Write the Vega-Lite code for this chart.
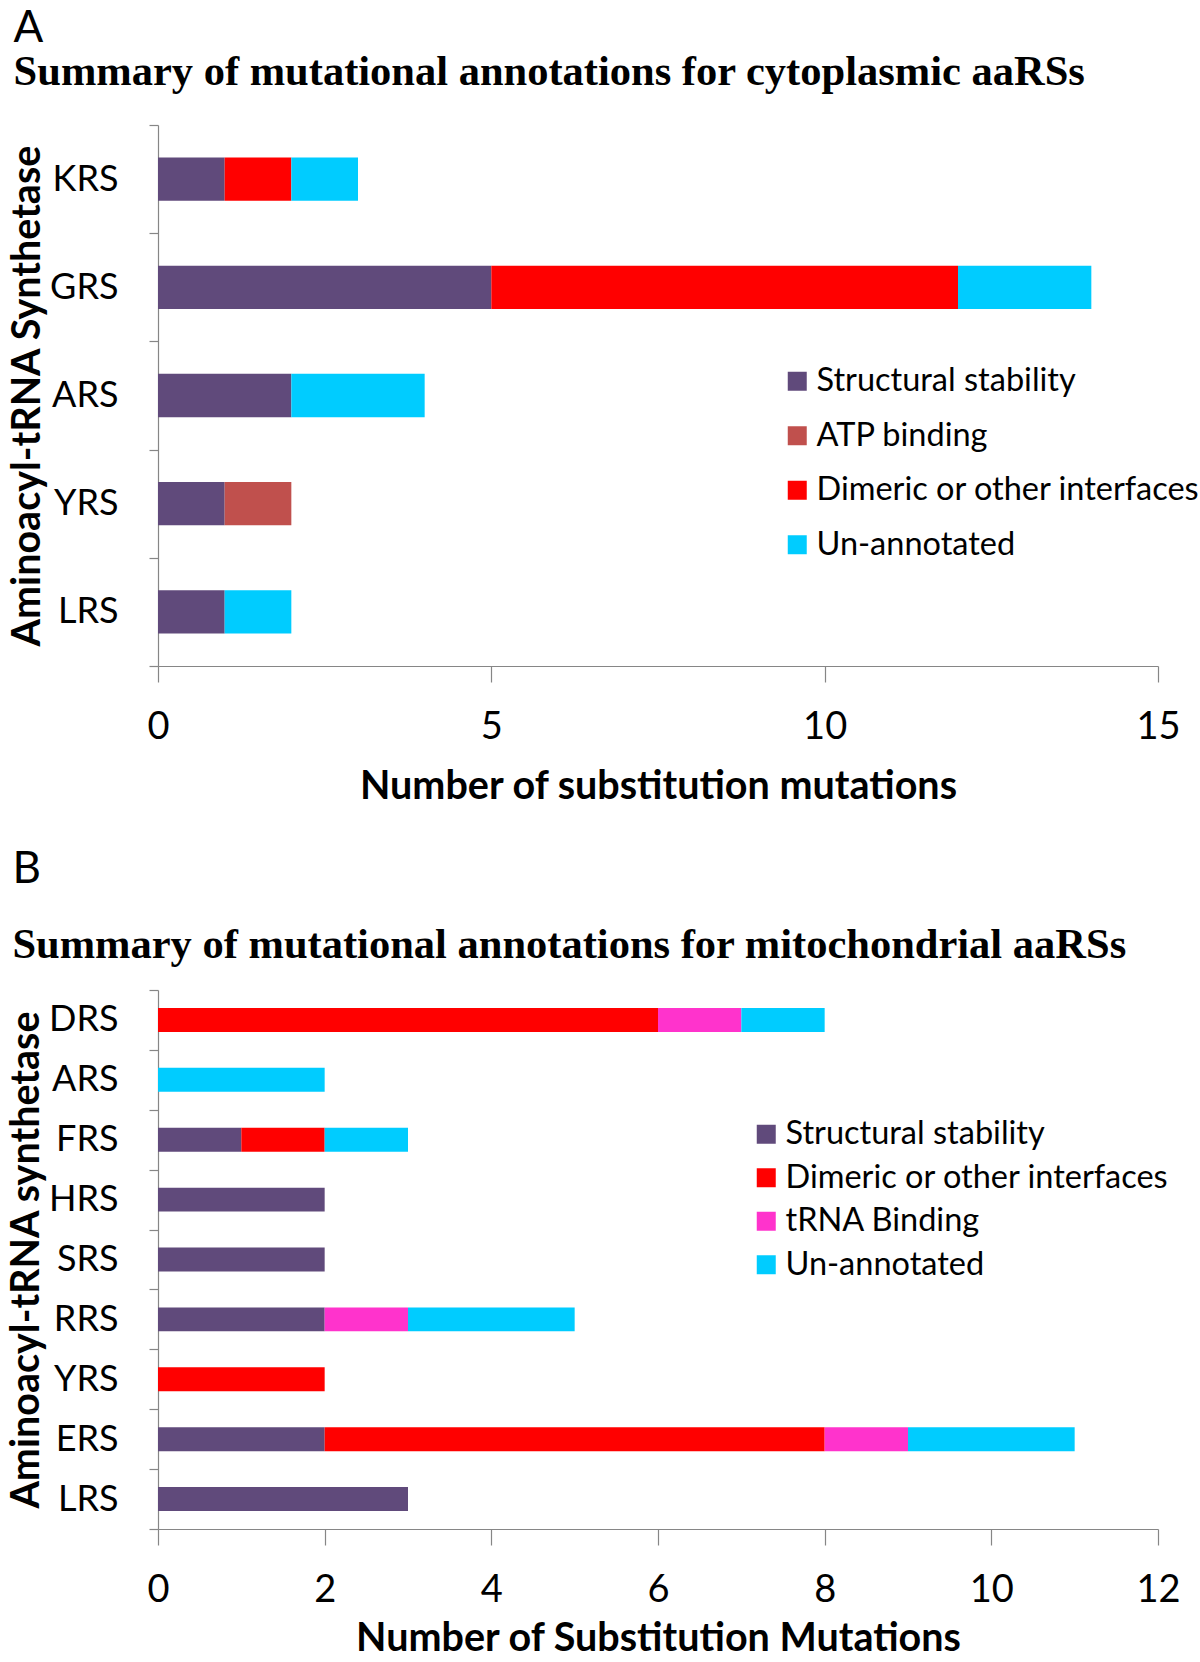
{
  "$schema": "https://vega.github.io/schema/vega-lite/v6.json",
  "background": "white",
  "padding": {"left": 6, "top": 6, "right": 0, "bottom": 0},
  "spacing": 41,
  "datasets": {
    "cyto": [
      {"enzyme": "KRS", "category": "Structural stability", "count": 1},
      {"enzyme": "KRS", "category": "Dimeric or other interfaces", "count": 1},
      {"enzyme": "KRS", "category": "Un-annotated", "count": 1},
      {"enzyme": "GRS", "category": "Structural stability", "count": 5},
      {"enzyme": "GRS", "category": "Dimeric or other interfaces", "count": 7},
      {"enzyme": "GRS", "category": "Un-annotated", "count": 2},
      {"enzyme": "ARS", "category": "Structural stability", "count": 2},
      {"enzyme": "ARS", "category": "Un-annotated", "count": 2},
      {"enzyme": "YRS", "category": "Structural stability", "count": 1},
      {"enzyme": "YRS", "category": "ATP binding", "count": 1},
      {"enzyme": "LRS", "category": "Structural stability", "count": 1},
      {"enzyme": "LRS", "category": "Un-annotated", "count": 1}
    ],
    "mito": [
      {"enzyme": "DRS", "category": "Dimeric or other interfaces", "count": 6},
      {"enzyme": "DRS", "category": "tRNA Binding", "count": 1},
      {"enzyme": "DRS", "category": "Un-annotated", "count": 1},
      {"enzyme": "ARS", "category": "Un-annotated", "count": 2},
      {"enzyme": "FRS", "category": "Structural stability", "count": 1},
      {"enzyme": "FRS", "category": "Dimeric or other interfaces", "count": 1},
      {"enzyme": "FRS", "category": "Un-annotated", "count": 1},
      {"enzyme": "HRS", "category": "Structural stability", "count": 2},
      {"enzyme": "SRS", "category": "Structural stability", "count": 2},
      {"enzyme": "RRS", "category": "Structural stability", "count": 2},
      {"enzyme": "RRS", "category": "tRNA Binding", "count": 1},
      {"enzyme": "RRS", "category": "Un-annotated", "count": 2},
      {"enzyme": "YRS", "category": "Dimeric or other interfaces", "count": 2},
      {"enzyme": "ERS", "category": "Structural stability", "count": 2},
      {"enzyme": "ERS", "category": "Dimeric or other interfaces", "count": 6},
      {"enzyme": "ERS", "category": "tRNA Binding", "count": 1},
      {"enzyme": "ERS", "category": "Un-annotated", "count": 2},
      {"enzyme": "LRS", "category": "Structural stability", "count": 3}
    ],
    "catOrder": [
      {"category": "Structural stability", "rank": 1},
      {"category": "ATP binding", "rank": 2},
      {"category": "Dimeric or other interfaces", "rank": 3},
      {"category": "tRNA Binding", "rank": 4},
      {"category": "Un-annotated", "rank": 5}
    ]
  },
  "config": {
    "view": {"stroke": null},
    "font": "Lato",
    "axis": {
      "grid": false,
      "domainColor": "#868686",
      "tickColor": "#868686",
      "domainWidth": 1.2,
      "tickWidth": 1.2,
      "labelFont": "Lato",
      "labelFontSize": 36,
      "labelColor": "#000000",
      "titleFont": "Lato",
      "titleFontSize": 39.5,
      "titleFontWeight": "bold",
      "titleColor": "#000000"
    },
    "legend": {
      "orient": "none",
      "title": null,
      "labelFont": "Lato",
      "labelFontSize": 32.5,
      "labelColor": "#000000",
      "labelLimit": 0,
      "symbolType": "square",
      "symbolSize": 361,
      "symbolStrokeWidth": 0,
      "symbolOpacity": 1,
      "labelOffset": 3,
      "padding": 0
    },
    "title": {
      "anchor": "start",
      "font": "Lato",
      "fontSize": 44,
      "fontWeight": "normal",
      "color": "#000000",
      "subtitleFont": "Liberation Serif",
      "subtitleFontSize": 42.5,
      "subtitleFontWeight": "bold",
      "subtitleColor": "#000000",
      "dx": 6
    }
  },
  "resolve": {"scale": {"color": "independent"}, "legend": {"color": "independent"}},
  "vconcat": [
    {
      "title": {"text": "A", "subtitle": "Summary of mutational annotations for cytoplasmic aaRSs", "subtitlePadding": 0, "offset": 14},
      "width": 1000,
      "height": 541,
      "data": {"name": "cyto"},
      "transform": [{"lookup": "category", "from": {"data": {"name": "catOrder"}, "key": "category", "fields": ["rank"]}}],
      "mark": {"type": "bar", "height": {"band": 0.4}},
      "encoding": {
        "y": {
          "field": "enzyme", "type": "nominal",
          "sort": ["KRS", "GRS", "ARS", "YRS", "LRS"],
          "scale": {"paddingInner": 0, "paddingOuter": 0},
          "axis": {"title": "Aminoacyl-tRNA Synthetase", "tickBand": "extent", "tickSize": 9, "labelPadding": 31, "titlePadding": 2}
        },
        "x": {
          "field": "count", "type": "quantitative", "stack": "zero",
          "scale": {"domain": [0, 15], "nice": false},
          "axis": {"values": [0, 5, 10, 15], "tickSize": 16, "labelPadding": 26, "labelFlush": false, "labelFontSize": 38, "title": "Number of substitution mutations", "titlePadding": 21}
        },
        "order": {"field": "rank", "type": "quantitative"},
        "color": {
          "field": "category", "type": "nominal",
          "sort": ["Structural stability", "ATP binding", "Dimeric or other interfaces", "Un-annotated"],
          "scale": {"domain": ["Structural stability", "ATP binding", "Dimeric or other interfaces", "Un-annotated"], "range": ["#604A7B", "#C0504D", "#FF0000", "#00CCFF"]},
          "legend": {"legendX": 623, "legendY": 240, "rowPadding": 21.5}
        }
      }
    },
    {
      "title": {"text": "B", "subtitle": "Summary of mutational annotations for mitochondrial aaRSs", "subtitlePadding": 32, "offset": 6},
      "width": 1000,
      "height": 539,
      "data": {"name": "mito"},
      "transform": [{"lookup": "category", "from": {"data": {"name": "catOrder"}, "key": "category", "fields": ["rank"]}}],
      "mark": {"type": "bar", "height": {"band": 0.4}},
      "encoding": {
        "y": {
          "field": "enzyme", "type": "nominal",
          "sort": ["DRS", "ARS", "FRS", "HRS", "SRS", "RRS", "YRS", "ERS", "LRS"],
          "scale": {"paddingInner": 0, "paddingOuter": 0},
          "axis": {"title": "Aminoacyl-tRNA synthetase", "tickBand": "extent", "tickSize": 9, "labelPadding": 31, "titlePadding": 2}
        },
        "x": {
          "field": "count", "type": "quantitative", "stack": "zero",
          "scale": {"domain": [0, 12], "nice": false},
          "axis": {"values": [0, 2, 4, 6, 8, 10, 12], "tickSize": 16, "labelPadding": 26, "labelFlush": false, "labelFontSize": 38, "title": "Number of Substitution Mutations", "titlePadding": 10}
        },
        "order": {"field": "rank", "type": "quantitative"},
        "color": {
          "field": "category", "type": "nominal",
          "sort": ["Structural stability", "Dimeric or other interfaces", "tRNA Binding", "Un-annotated"],
          "scale": {"domain": ["Structural stability", "Dimeric or other interfaces", "tRNA Binding", "Un-annotated"], "range": ["#604A7B", "#FF0000", "#FF33CC", "#00CCFF"]},
          "legend": {"legendX": 592, "legendY": 128, "rowPadding": 10.5}
        }
      }
    }
  ]
}
